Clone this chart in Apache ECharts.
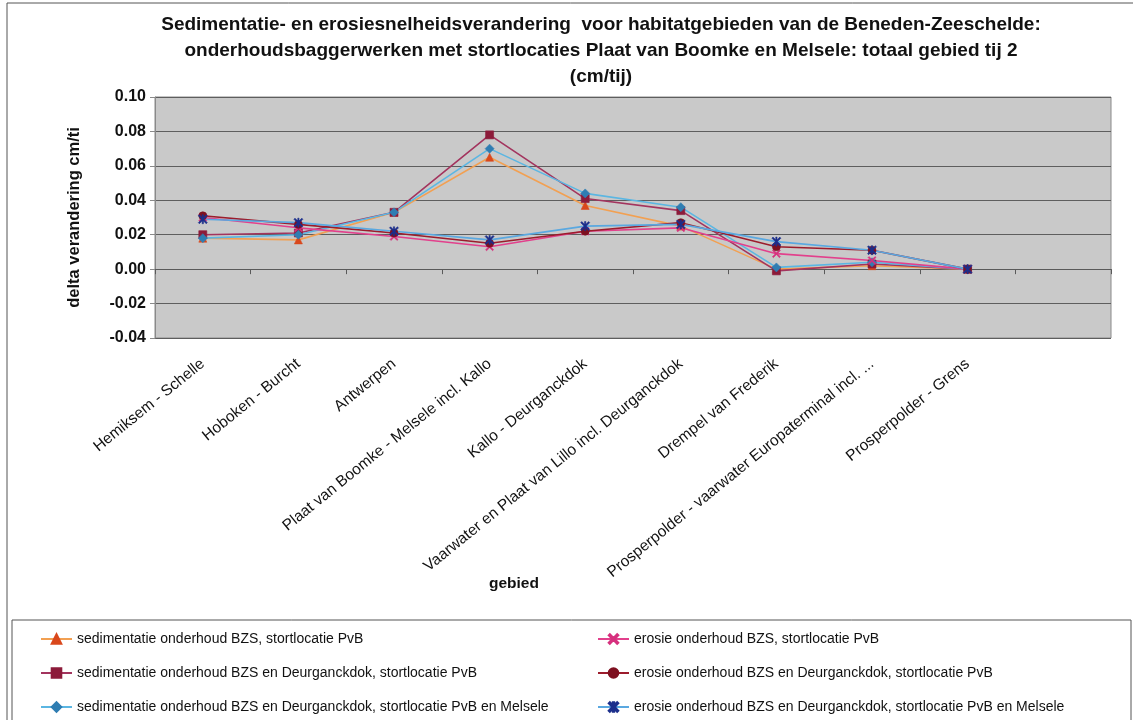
<!DOCTYPE html>
<html>
<head>
<meta charset="utf-8">
<script src="https://cdn.jsdelivr.net/npm/echarts@6/dist/echarts.min.js"></script>
<style>
  html, body { margin: 0; padding: 0; background: #ffffff; }
  #chart { width: 1133px; height: 720px; }
</style>
</head>
<body>
<div id="chart"></div>
<script>
// Areas along the Beneden-Zeeschelde (last slot left empty, as on the axis)
const categories = [
  'Hemiksem - Schelle',
  'Hoboken - Burcht',
  'Antwerpen',
  'Plaat van Boomke - Melsele incl. Kallo',
  'Kallo - Deurganckdok',
  'Vaarwater en Plaat van Lillo incl. Deurganckdok',
  'Drempel van Frederik',
  'Prosperpolder - vaarwater Europaterminal incl. ...',
  'Prosperpolder - Grens',
  ''
];

// delta change in cm per tide
const sedBZS        = [0.018, 0.017, 0.033, 0.065, 0.037, 0.025, 0.000, 0.002, 0.000];
const sedBZSDgd     = [0.020, 0.021, 0.033, 0.078, 0.041, 0.034, -0.001, 0.003, 0.000];
const sedBZSDgdMel  = [0.018, 0.020, 0.033, 0.070, 0.044, 0.036, 0.001, 0.004, 0.000];
const eroBZS        = [0.030, 0.024, 0.019, 0.013, 0.022, 0.024, 0.009, 0.005, 0.000];
const eroBZSDgd     = [0.031, 0.026, 0.021, 0.015, 0.022, 0.027, 0.013, 0.011, 0.000];
const eroBZSDgdMel  = [0.029, 0.027, 0.022, 0.017, 0.025, 0.026, 0.016, 0.011, 0.000];

const seriesNames = [
  'sedimentatie onderhoud BZS, stortlocatie PvB',
  'sedimentatie onderhoud BZS en Deurganckdok, stortlocatie PvB',
  'sedimentatie onderhoud BZS en Deurganckdok, stortlocatie PvB en Melsele',
  'erosie onderhoud BZS, stortlocatie PvB',
  'erosie onderhoud BZS en Deurganckdok, stortlocatie PvB',
  'erosie onderhoud BZS en Deurganckdok, stortlocatie PvB en Melsele'
];

const yTicks = { min: -0.04, max: 0.10, step: 0.02 };

const FONT = '"Liberation Sans", Arial, sans-serif';

// Marker shapes: cross and asterisk as filled outlines
const crossPath = 'path://M0,1.2L1.2,0L5,3.8L8.8,0L10,1.2L6.2,5L10,8.8L8.8,10L5,6.2L1.2,10L0,8.8L3.8,5Z';
const starPath = 'path://M0,1.2L1.2,0L5,3.8L8.8,0L10,1.2L6.2,5L10,8.8L8.8,10L5,6.2L1.2,10L0,8.8L3.8,5Z' +
                 'M4.3,0L5.7,0L5.7,10L4.3,10Z';

function lineSeries(name, data, lineColor, markColor, symbol, size) {
  return {
    name: name,
    type: 'line',
    data: data,
    xAxisIndex: 0,
    symbol: symbol,
    symbolSize: size,
    showAllSymbol: true,
    lineStyle: { color: lineColor, width: 1.6 },
    itemStyle: { color: markColor, borderColor: markColor, borderWidth: 0.6 },
    emphasis: { disabled: true },
    animation: false,
    z: 3
  };
}

const chart = echarts.init(document.getElementById('chart'), null, { renderer: 'canvas' });

const legendText = { fontFamily: FONT, fontSize: 14, color: '#111' };

function legendColumn(names, left) {
  return {
    data: names,
    orient: 'vertical',
    left: left,
    top: 632,
    height: 90,
    padding: 0,
    itemWidth: 31,
    itemHeight: 12,
    itemGap: 20,
    textStyle: legendText,
    selectedMode: false
  };
}

chart.setOption({
  backgroundColor: '#ffffff',
  animation: false,
  title: {
    text: 'Sedimentatie- en erosiesnelheidsverandering  voor habitatgebieden van de Beneden-Zeeschelde:\n' +
          'onderhoudsbaggerwerken met stortlocaties Plaat van Boomke en Melsele: totaal gebied tij 2\n' +
          '(cm/tij)',
    left: 596,
    textAlign: 'center',
    top: 7,
    textStyle: { fontFamily: FONT, fontSize: 19, fontWeight: 'bold', color: '#111', lineHeight: 26 }
  },
  legend: [
    legendColumn(seriesNames.slice(0, 3), 40),
    legendColumn(seriesNames.slice(3), 597)
  ],
  grid: {
    left: 155, right: 22, top: 97, bottom: 382,
    show: true,
    backgroundColor: '#c9c9c9',
    borderColor: '#8a8a8a',
    borderWidth: 1,
    containLabel: false
  },
  xAxis: [
    {
      type: 'category',
      data: categories,
      position: 'bottom',
      boundaryGap: true,
      axisLine: { show: false, onZero: false },
      axisTick: { show: false },
      axisLabel: {
        rotate: 39,
        interval: 0,
        margin: 24,
        fontFamily: FONT,
        fontSize: 15.5,
        color: '#111'
      },
      splitLine: { show: false }
    },
    {
      // zero line with tick marks between the areas
      type: 'category',
      data: categories,
      position: 'top',
      boundaryGap: true,
      axisLine: { show: true, onZero: true, onZeroAxisIndex: 0, lineStyle: { color: '#5a5a5a', width: 1 } },
      axisTick: { show: true, inside: true, interval: 0, length: 5, lineStyle: { color: '#5a5a5a' } },
      axisLabel: { show: false, interval: 0 },
      splitLine: { show: false }
    }
  ],
  yAxis: {
    type: 'value',
    min: yTicks.min,
    max: yTicks.max,
    interval: yTicks.step,
    name: 'delta verandering cm/ti',
    nameLocation: 'middle',
    nameGap: 72,
    nameTextStyle: { fontFamily: FONT, fontSize: 16.5, fontWeight: 'bold', color: '#111' },
    axisLine: { show: true, lineStyle: { color: '#8a8a8a' } },
    axisTick: { show: true, length: 5, lineStyle: { color: '#8a8a8a' } },
    axisLabel: {
      fontFamily: FONT, fontSize: 16, fontWeight: 'bold', color: '#111', margin: 9,
      formatter: v => v.toFixed(2)
    },
    splitLine: { show: true, lineStyle: { color: '#5e5e5e', width: 1 } }
  },
  graphic: [
    // outer chart frame
    { type: 'rect', shape: { x: 7, y: 3, width: 1140, height: 730 },
      style: { fill: 'none', stroke: '#555', lineWidth: 1 }, silent: true, z: -1 },
    // legend frame
    { type: 'rect', shape: { x: 12, y: 620, width: 1119, height: 110 },
      style: { fill: 'none', stroke: '#555', lineWidth: 1 }, silent: true },
    // category axis title
    { type: 'text', left: 489, top: 576,
      style: { text: 'gebied', fontFamily: FONT, fontSize: 15.5, fontWeight: 'bold', fill: '#111' } }
  ],
  series: [
    lineSeries(seriesNames[0], sedBZS,       '#f2a052', '#d9481c', 'triangle', 8),
    lineSeries(seriesNames[1], sedBZSDgd,    '#a3345e', '#8c1b3a', 'rect', 8),
    lineSeries(seriesNames[2], sedBZSDgdMel, '#5bb6e2', '#2f7db2', 'diamond', 9),
    lineSeries(seriesNames[3], eroBZS,       '#e2408c', '#d6307e', crossPath, 8),
    lineSeries(seriesNames[4], eroBZSDgd,    '#9c1c2c', '#7e1020', 'circle', 8),
    lineSeries(seriesNames[5], eroBZSDgdMel, '#5aa8e0', '#1c2f8c', starPath, 9)
  ]
});
</script>
</body>
</html>
